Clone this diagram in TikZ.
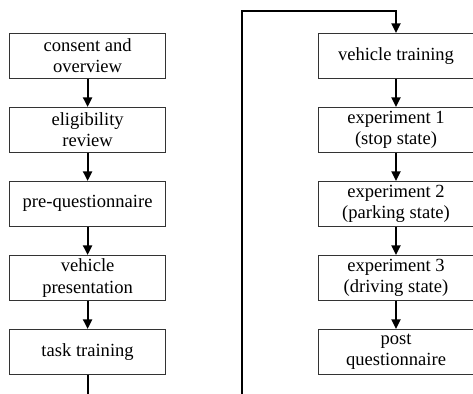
\documentclass[tikz,border=0pt]{standalone}
\usepackage{fontspec}
\setmainfont{Liberation Serif}
\usetikzlibrary{arrows.meta, positioning}
\tikzset{
  stepbox/.style={draw=black!80, fill=white, line width=0.6pt, align=center,
                  minimum width=3.9cm, minimum height=1.125cm, inner sep=1pt,
                  font=\fontsize{13.2}{15.4}\selectfont},
  arr/.style={-{Triangle[length=2.4mm,width=2.3mm]}, line width=1.3pt},
  link/.style={line width=1.3pt},
}

\begin{document}
\begin{tikzpicture}[x=1cm, y=1cm]
\useasboundingbox (0,0) rectangle (11.825,9.85);

% ---------------- first column ----------------
\node[stepbox] (consent) at (2.19,8.455) {consent and\\overview};
\node[stepbox] (elig) at (2.19,6.605) {eligibility\\review};
\node[stepbox] (preq) at (2.19,4.755) {pre-questionnaire};
\node[stepbox] (vpres) at (2.19,2.905) {vehicle\\presentation};
\node[stepbox] (task) at (2.19,1.055) {task training};

\draw[arr] (consent.south) -- (elig.north);
\draw[arr] (elig.south) -- (preq.north);
\draw[arr] (preq.south) -- (vpres.north);
\draw[arr] (vpres.south) -- (task.north);
\coordinate (leftout) at (2.19,0);
\draw[link] (task.south) -- (leftout);

% ---------------- second column ----------------
\node[stepbox] (vtrain) at (9.9,8.455) {vehicle training};
\node[stepbox] (exp1) at (9.9,6.605) {experiment 1\\(stop state)};
\node[stepbox] (exp2) at (9.9,4.755) {experiment 2\\(parking state)};
\node[stepbox] (exp3) at (9.9,2.905) {experiment 3\\(driving state)};
\node[stepbox] (postq) at (9.9,1.055) {post\\questionnaire};

% the line that comes back up from the bottom
\coordinate (rightin) at (6.06,0);
\draw[arr] (rightin) |- (9.9,9.575) -- (vtrain.north);
\draw[arr] (vtrain.south) -- (exp1.north);
\draw[arr] (exp1.south) -- (exp2.north);
\draw[arr] (exp2.south) -- (exp3.north);
\draw[arr] (exp3.south) -- (postq.north);
\end{tikzpicture}
\end{document}
